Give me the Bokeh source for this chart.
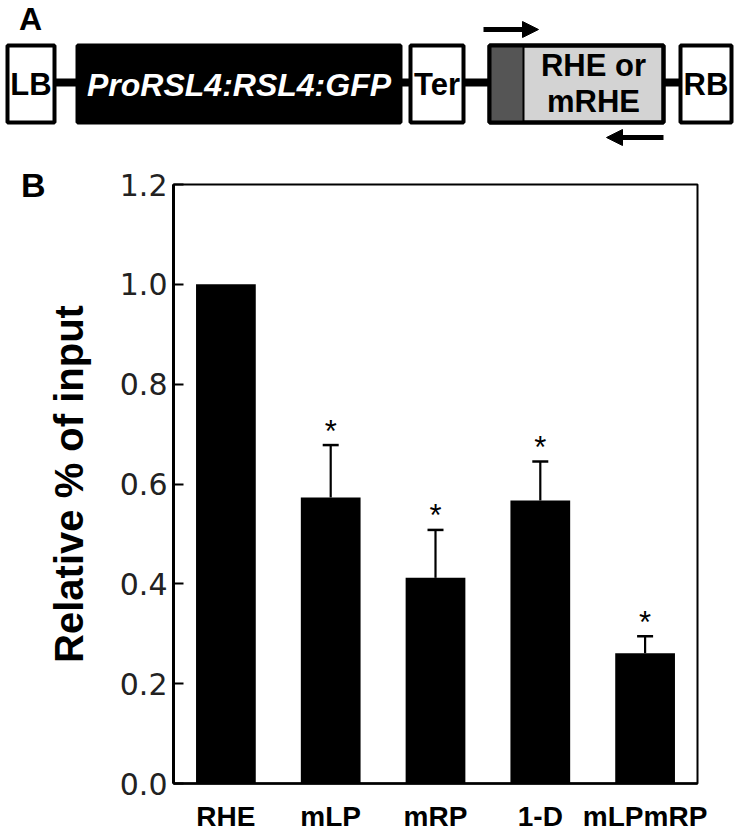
from bokeh.plotting import figure
from bokeh.models import (Range1d, ColumnDataSource, Whisker, TeeHead, LinearAxis,
                          FixedTicker, PrintfTickFormatter, Arrow, NormalHead)
from bokeh.embed import file_html
from bokeh.resources import INLINE
from bokeh.core.properties import value

# ---------------- data (panel B) ----------------
categories = ["RHE", "mLP", "mRP", "1-D", "mLPmRP"]
relative_input = [1.0, 0.573, 0.412, 0.567, 0.261]
error_upper = [0.0, 0.105, 0.096, 0.078, 0.034]
significant = [False, True, True, True, True]
y_ticks = [0.0, 0.2, 0.4, 0.6, 0.8, 1.0, 1.2]

# ---------------- panel A: construct schematic ----------------
# (label, left, right, fill, text colour, font style)
construct_boxes = [
    ("LB", 7, 54, "white", "black", "bold"),
    ("ProRSL4:RSL4:GFP", 77, 400, "black", "white", "bold italic"),
    ("Ter", 410, 463, "white", "black", "bold"),
    ("RHE", 489, 663, "#d3d3d3", "black", "bold"),
    ("RB", 680, 731, "white", "black", "bold"),
]

FONT = "Liberation Sans"

pa = figure(width=737, height=165, x_range=Range1d(0, 737), y_range=Range1d(165, 0),
            output_backend="svg", toolbar_location=None,
            x_axis_location=None, y_axis_location=None, min_border=0)
pa.grid.visible = False
pa.outline_line_color = None

pa.segment(x0=[54], y0=[82], x1=[680], y1=[82], line_color="black", line_width=8)

for name, l, r, fill, tcol, style in construct_boxes:
    pa.quad(left=[l], right=[r], top=[45], bottom=[122], fill_color=fill,
            line_color="black", line_width=4)
    if name == "RHE":
        pa.quad(left=[l], right=[l + 34], top=[45], bottom=[122], fill_color="#555555",
                line_color="black", line_width=2)
        pa.quad(left=[l], right=[r], top=[45], bottom=[122], fill_color=None,
                line_color="black", line_width=4)
        cx = (l + 34 + r) / 2
        for txt, ty in (("RHE or", 65), ("mRHE", 101)):
            pa.text(x=[cx], y=[ty], text=[txt], text_font=value(FONT),
                    text_font_size="31px", text_font_style="bold", text_color=tcol,
                    text_align="center", text_baseline="middle")
    else:
        size = "32px" if name.startswith("Pro") else "31px"
        pa.text(x=[(l + r) / 2], y=[84], text=[name], text_font=value(FONT),
                text_font_size=size, text_font_style=style, text_color=tcol,
                text_align="center", text_baseline="middle")

pa.add_layout(Arrow(x_start=483, y_start=29, x_end=538, y_end=29, line_width=5,
                    line_color="black",
                    end=NormalHead(size=16, fill_color="black", line_color="black")))
pa.add_layout(Arrow(x_start=663, y_start=137, x_end=606, y_end=137, line_width=5,
                    line_color="black",
                    end=NormalHead(size=16, fill_color="black", line_color="black")))
pa.text(x=[30], y=[0], text=["A"], text_font=value(FONT), text_font_size="32px",
        text_font_style="bold", text_align="center", text_baseline="top")

# ---------------- panel B: bar chart ----------------
n = len(categories)
xs = [i + 0.5 for i in range(n)]

pb = figure(width=737, height=670, x_range=Range1d(0, n), y_range=Range1d(0, 1.2),
            output_backend="svg", toolbar_location=None,
            min_border_left=173, min_border_right=40, min_border_top=19,
            min_border_bottom=52)
pb.grid.visible = False
pb.outline_line_color = "black"
pb.outline_line_width = 2

src = ColumnDataSource(dict(x=xs, top=relative_input))
pb.vbar(x="x", top="top", width=0.57, source=src, fill_color="black", line_color=None)

err_idx = [i for i in range(n) if error_upper[i] > 0]
err_src = ColumnDataSource(dict(x=[xs[i] for i in err_idx],
                                top=[relative_input[i] for i in err_idx],
                                upper=[relative_input[i] + error_upper[i] for i in err_idx]))
pb.add_layout(Whisker(source=err_src, base="x", upper="upper", lower="top",
                      upper_head=TeeHead(size=16, line_width=2.5, line_color="black"),
                      lower_head=None, line_width=2.2, line_color="black"))

star_idx = [i for i in range(n) if significant[i]]
pb.text(x=[xs[i] for i in star_idx],
        y=[relative_input[i] + error_upper[i] for i in star_idx],
        text=["*"] * len(star_idx), text_font=value(FONT), text_font_size="31px",
        text_align="center", text_baseline="alphabetic", y_offset=-14, text_color="black")

# y axis
yax = pb.yaxis[0]
yax.ticker = FixedTicker(ticks=y_ticks)
yax.formatter = PrintfTickFormatter(format="%.1f")
yax.minor_tick_line_color = None
yax.major_tick_in = 10
yax.major_tick_out = 0
yax.major_tick_line_width = 2
yax.axis_line_width = 3
yax.major_label_standoff = 6
yax.major_label_text_font = "DejaVu Sans"
yax.major_label_text_font_size = "30px"
yax.major_label_text_color = "#222222"
yax.axis_label = "Relative % of input"
yax.axis_label_text_font = FONT
yax.axis_label_text_font_size = "40px"
yax.axis_label_text_font_style = "bold"
yax.axis_label_text_color = "black"
yax.axis_label_standoff = 26

# panel letter "B" at the level of the top of the y scale
b_axis = LinearAxis(ticker=FixedTicker(ticks=[1.2]), major_label_overrides={1.2: "B"},
                    axis_line_color=None, major_tick_line_color=None,
                    minor_tick_line_color=None, major_label_standoff=-8,
                    major_label_text_font=FONT, major_label_text_font_size="34px",
                    major_label_text_font_style="bold", major_label_text_color="black")
pb.add_layout(b_axis, "left")

# x axis
xax = pb.xaxis[0]
xax.ticker = FixedTicker(ticks=xs)
xax.major_label_overrides = {x: c for x, c in zip(xs, categories)}
xax.major_tick_line_color = None
xax.minor_tick_line_color = None
xax.axis_line_width = 2.5
xax.major_label_standoff = 11
xax.major_label_text_font = FONT
xax.major_label_text_font_size = "28px"
xax.major_label_text_font_style = "bold"
xax.major_label_text_color = "black"

open("out.html", "w").write(file_html([pa, pb], INLINE))
